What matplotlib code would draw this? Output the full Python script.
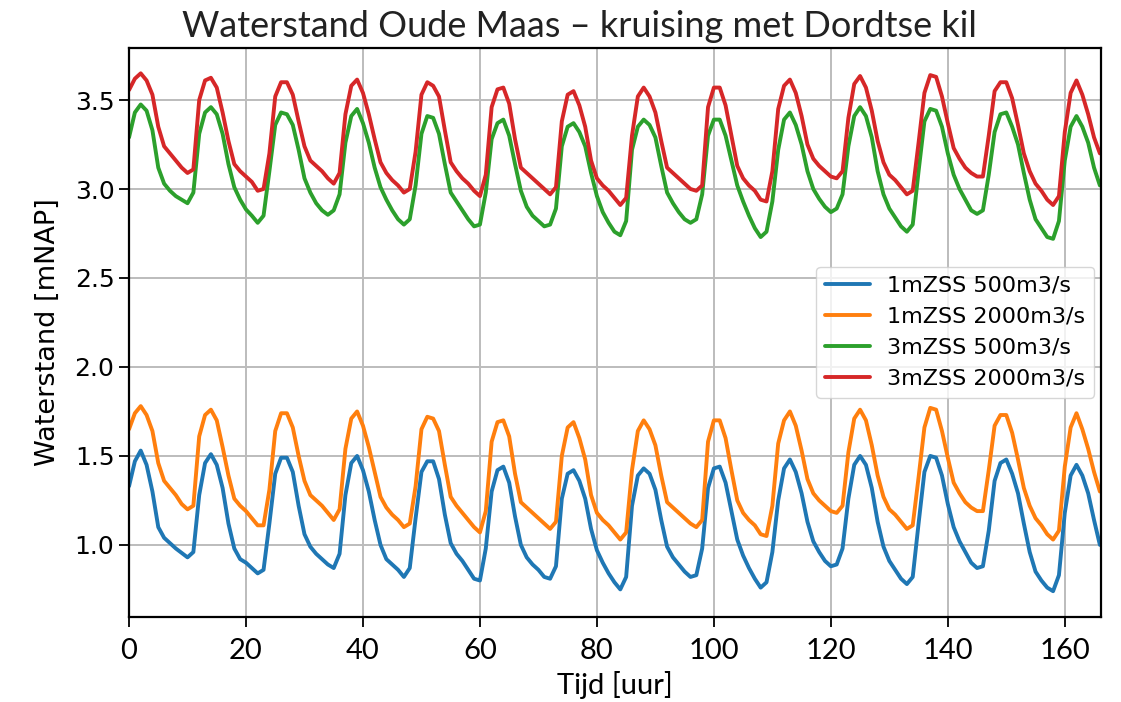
import matplotlib
matplotlib.use("Agg")
import matplotlib.pyplot as plt
import numpy as np

plt.rcParams["font.family"] = ["DejaVu Sans"]

# Time axis in hours
tijd = np.arange(0, 167)

# Water levels [mNAP], hourly
zss1_q500 = [
    1.33, 1.47, 1.53, 1.45, 1.30, 1.10, 1.04, 1.01, 0.98, 0.955,
    0.93, 0.96, 1.28, 1.46, 1.51, 1.45, 1.32, 1.12, 0.98, 0.92,
    0.90, 0.87, 0.84, 0.86, 1.12, 1.40, 1.49, 1.49, 1.41, 1.22,
    1.06, 0.99, 0.95, 0.92, 0.89, 0.87, 0.95, 1.28, 1.46, 1.50,
    1.42, 1.30, 1.14, 1.00, 0.92, 0.89, 0.86, 0.82, 0.87, 1.15,
    1.41, 1.47, 1.47, 1.37, 1.17, 1.01, 0.95, 0.91, 0.86, 0.81,
    0.80, 0.98, 1.30, 1.42, 1.44, 1.35, 1.16, 1.00, 0.93, 0.89,
    0.86, 0.82, 0.81, 0.88, 1.26, 1.40, 1.42, 1.36, 1.26, 1.09,
    0.97, 0.90, 0.84, 0.79, 0.75, 0.82, 1.22, 1.39, 1.43, 1.40,
    1.31, 1.14, 0.99, 0.93, 0.89, 0.85, 0.82, 0.83, 0.98, 1.32,
    1.43, 1.44, 1.35, 1.19, 1.03, 0.94, 0.87, 0.81, 0.76, 0.79,
    0.96, 1.25, 1.43, 1.48, 1.41, 1.29, 1.13, 1.02, 0.96, 0.91,
    0.88, 0.89, 0.98, 1.26, 1.45, 1.50, 1.45, 1.32, 1.13, 0.99,
    0.91, 0.86, 0.81, 0.78, 0.82, 1.12, 1.41, 1.50, 1.49, 1.39,
    1.23, 1.10, 1.02, 0.96, 0.90, 0.87, 0.88, 1.08, 1.36, 1.46,
    1.48, 1.40, 1.29, 1.12, 0.96, 0.85, 0.80, 0.76, 0.74, 0.83,
    1.18, 1.39, 1.45, 1.39, 1.29, 1.14, 1.00,
]

zss1_q2000 = [
    1.65, 1.74, 1.78, 1.73, 1.64, 1.46, 1.36, 1.32, 1.28, 1.23,
    1.20, 1.22, 1.61, 1.73, 1.76, 1.70, 1.55, 1.39, 1.26, 1.22,
    1.19, 1.15, 1.11, 1.11, 1.31, 1.64, 1.74, 1.74, 1.66, 1.50,
    1.36, 1.28, 1.25, 1.22, 1.18, 1.14, 1.20, 1.54, 1.71, 1.75,
    1.67, 1.55, 1.41, 1.27, 1.21, 1.17, 1.14, 1.10, 1.12, 1.33,
    1.65, 1.72, 1.71, 1.64, 1.45, 1.27, 1.22, 1.18, 1.14, 1.10,
    1.07, 1.19, 1.58, 1.69, 1.70, 1.61, 1.40, 1.24, 1.21, 1.18,
    1.15, 1.12, 1.09, 1.13, 1.50, 1.66, 1.69, 1.60, 1.48, 1.28,
    1.18, 1.14, 1.11, 1.07, 1.03, 1.07, 1.42, 1.64, 1.70, 1.65,
    1.56, 1.39, 1.24, 1.21, 1.18, 1.15, 1.12, 1.10, 1.14, 1.58,
    1.70, 1.70, 1.60, 1.42, 1.25, 1.18, 1.14, 1.11, 1.06, 1.05,
    1.22, 1.57, 1.70, 1.75, 1.67, 1.53, 1.37, 1.29, 1.25, 1.22,
    1.19, 1.18, 1.22, 1.52, 1.71, 1.76, 1.70, 1.56, 1.39, 1.27,
    1.20, 1.17, 1.13, 1.09, 1.11, 1.38, 1.66, 1.77, 1.76, 1.64,
    1.49, 1.35, 1.29, 1.24, 1.21, 1.19, 1.19, 1.42, 1.67, 1.73,
    1.73, 1.63, 1.48, 1.32, 1.22, 1.15, 1.11, 1.06, 1.03, 1.08,
    1.44, 1.66, 1.74, 1.65, 1.54, 1.41, 1.30,
]

zss3_q500 = [
    3.29, 3.43, 3.475, 3.44, 3.33, 3.12, 3.03, 2.99, 2.96, 2.94,
    2.92, 2.98, 3.31, 3.43, 3.46, 3.42, 3.31, 3.14, 3.01, 2.94,
    2.885, 2.85, 2.81, 2.85, 3.10, 3.36, 3.43, 3.42, 3.36, 3.22,
    3.06, 2.98, 2.92, 2.88, 2.855, 2.88, 2.97, 3.26, 3.41, 3.45,
    3.37, 3.26, 3.12, 3.01, 2.94, 2.88, 2.83, 2.80, 2.83, 3.02,
    3.31, 3.41, 3.40, 3.31, 3.14, 2.98, 2.93, 2.88, 2.83, 2.79,
    2.80, 2.98, 3.28, 3.37, 3.39, 3.30, 3.14, 2.99, 2.90, 2.85,
    2.82, 2.79, 2.80, 2.89, 3.24, 3.35, 3.37, 3.32, 3.24, 3.09,
    2.96, 2.87, 2.81, 2.76, 2.74, 2.82, 3.22, 3.35, 3.39, 3.36,
    3.29, 3.13, 2.98, 2.92, 2.87, 2.83, 2.81, 2.83, 2.97, 3.30,
    3.39, 3.39, 3.30, 3.16, 3.02, 2.93, 2.85, 2.78, 2.73, 2.76,
    2.93, 3.22, 3.39, 3.43, 3.36, 3.25, 3.10, 3.00, 2.945, 2.90,
    2.87, 2.89, 2.97, 3.24, 3.41, 3.46, 3.41, 3.29, 3.10, 2.97,
    2.89, 2.84, 2.79, 2.76, 2.80, 3.10, 3.38, 3.45, 3.44, 3.35,
    3.20, 3.08, 3.00, 2.94, 2.88, 2.86, 2.88, 3.08, 3.32, 3.42,
    3.43, 3.35, 3.25, 3.09, 2.94, 2.83, 2.78, 2.73, 2.72, 2.82,
    3.16, 3.35, 3.41, 3.35, 3.26, 3.12, 3.02,
]

zss3_q2000 = [
    3.556, 3.62, 3.65, 3.61, 3.53, 3.35, 3.24, 3.20, 3.16, 3.12,
    3.09, 3.11, 3.50, 3.61, 3.625, 3.57, 3.43, 3.27, 3.14, 3.10,
    3.07, 3.04, 2.99, 3.00, 3.20, 3.52, 3.60, 3.60, 3.53, 3.38,
    3.24, 3.16, 3.13, 3.10, 3.06, 3.03, 3.09, 3.42, 3.58, 3.615,
    3.54, 3.42, 3.28, 3.15, 3.09, 3.05, 3.02, 2.98, 3.00, 3.21,
    3.53, 3.60, 3.58, 3.52, 3.33, 3.15, 3.10, 3.06, 3.03, 2.99,
    2.96, 3.08, 3.46, 3.56, 3.57, 3.48, 3.28, 3.12, 3.09, 3.06,
    3.03, 3.00, 2.97, 3.01, 3.38, 3.53, 3.55, 3.47, 3.35, 3.16,
    3.06, 3.02, 2.99, 2.95, 2.91, 2.95, 3.30, 3.52, 3.57, 3.52,
    3.43, 3.27, 3.12, 3.09, 3.06, 3.03, 3.00, 2.99, 3.02, 3.46,
    3.57, 3.57, 3.47, 3.30, 3.13, 3.06, 3.02, 2.99, 2.94, 2.93,
    3.10, 3.45, 3.58, 3.615, 3.54, 3.41, 3.25, 3.17, 3.13, 3.10,
    3.07, 3.06, 3.10, 3.40, 3.59, 3.635, 3.57, 3.44, 3.27, 3.15,
    3.08, 3.05, 3.01, 2.97, 2.99, 3.26, 3.54, 3.64, 3.63, 3.52,
    3.37, 3.23, 3.17, 3.12, 3.09, 3.07, 3.07, 3.30, 3.55, 3.60,
    3.60, 3.51, 3.36, 3.20, 3.10, 3.03, 2.99, 2.94, 2.91, 2.96,
    3.32, 3.54, 3.61, 3.53, 3.42, 3.29, 3.20,
]

labels = ["1mZSS 500m3/s", "1mZSS 2000m3/s", "3mZSS 500m3/s", "3mZSS 2000m3/s"]
colors = ["#1f77b4", "#ff7f0e", "#2ca02c", "#d62728"]

narrow = ["Lato", "DejaVu Sans"]
plain = ["DejaVu Sans"]

fig = plt.figure(figsize=(11.21, 7.02), dpi=100)
ax = fig.add_axes([0.1151, 0.1211, 0.8671, 0.8112])

for serie, lab, col in zip([zss1_q500, zss1_q2000, zss3_q500, zss3_q2000], labels, colors):
    ax.plot(tijd, serie, color=col, lw=2.8, label=lab,
            solid_joinstyle="round", solid_capstyle="round")

ax.set_xlim(0, 166.2)
ax.set_ylim(0.595, 3.795)
ax.set_xticks(np.arange(0, 161, 20))
ax.set_yticks([1.0, 1.5, 2.0, 2.5, 3.0, 3.5])
ax.grid(True, color="#bcbcbc", lw=1.4)

ax.tick_params(axis="x", pad=8, labelsize=21, labelfontfamily="Lato")
ax.tick_params(axis="y", labelsize=18, labelfontfamily="DejaVu Sans")
ax.tick_params(axis="both", length=7, width=1.3)
for sp in ax.spines.values():
    sp.set_linewidth(1.6)

ax.set_xlabel("Tijd [uur]", fontsize=21, family=narrow, labelpad=5)
ax.set_ylabel("Waterstand [mNAP]", fontsize=19.5, family=plain, labelpad=10)

ax.legend(loc="center right", prop={"family": plain, "size": 16},
          framealpha=0.8, handlelength=2.0, borderaxespad=0.3)

fig.text(0.517, 0.962, "Waterstand Oude Maas \u2013 kruising met Dordtse kil",
         ha="center", va="center", fontsize=26, family=narrow, color="#222222")

fig.savefig("out.png", dpi=100)
